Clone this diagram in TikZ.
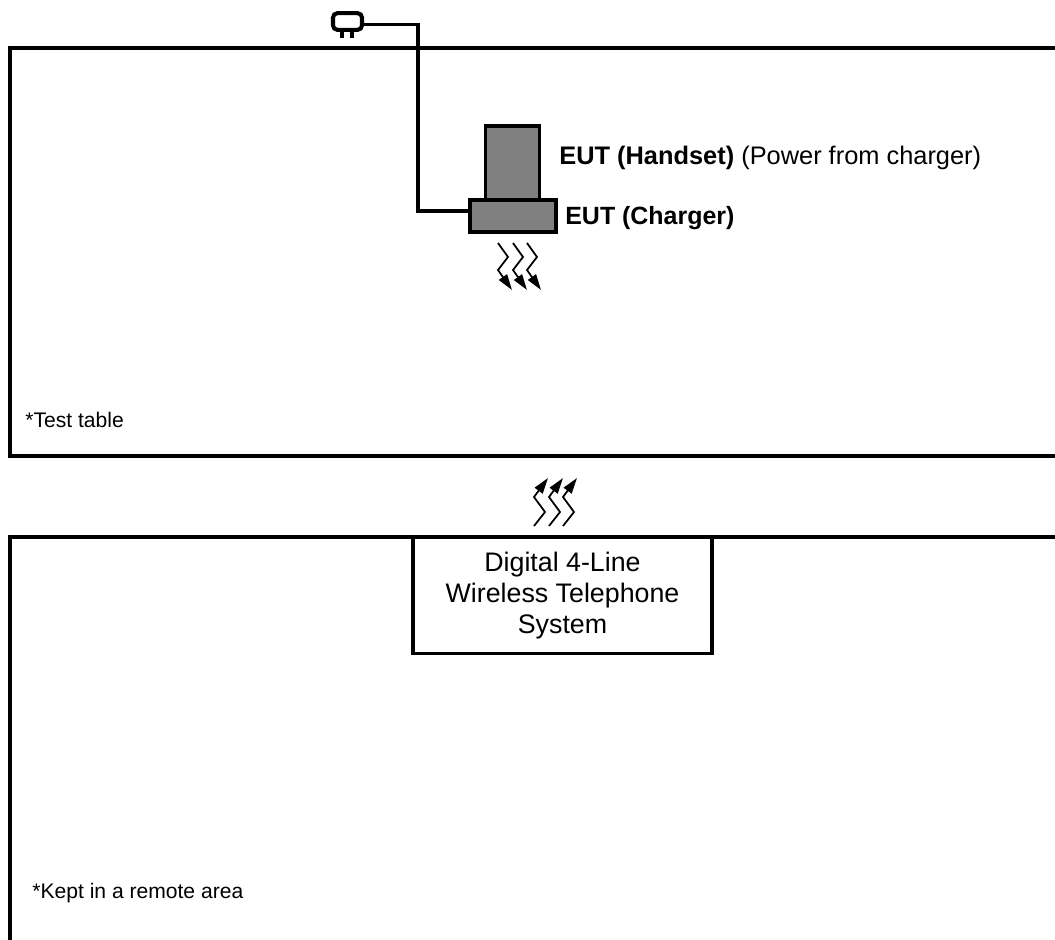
\documentclass[tikz,border=0pt]{standalone}
\usepackage{fontspec}
\setmainfont{Liberation Sans}
\usetikzlibrary{positioning,arrows.meta}

\begin{document}
\begin{tikzpicture}[
  x=0.02cm,y=-0.02cm,
  wall/.style={line width=2pt},
  unit/.style={draw=black,fill=black!50,line width=2pt,inner sep=0pt,outer sep=0pt},
  label/.style={anchor=base west,inner sep=0pt,font=\fontsize{14.45}{17}\selectfont},
  note/.style={anchor=base west,inner sep=0pt,font=\fontsize{12}{14}\selectfont},
  wave/.style={line width=1pt,-{Triangle[length=9pt,width=5.5pt]}}
]
\useasboundingbox (0,0) rectangle (1055,940);
% tables
\draw[wall] (1055,48) -- (10,48) -- (10,456) -- (1055,456);
\draw[wall] (1055,537) -- (10,537) -- (10,940);
\node[note] (tabletxt) at (25,427) {*Test table};
\node[note] (remotetxt) at (32,898) {*Kept in a remote area};
% system in the remote area
\node[draw=black,fill=white,line width=2pt,inner sep=0pt,outer sep=0pt,minimum width=170pt,minimum height=66pt,
  align=center,font=\fontsize{15.25}{17.6}\selectfont] (system) at (562.5,595.5) {Digital 4-Line\\Wireless Telephone\\System};
% handset on charger
\node[unit,minimum width=31pt,minimum height=43pt] (handset) at (512.5,164) {};
\node[unit,minimum width=49pt,minimum height=18pt] (charger) at (513,216) {};
\node[label] (handsettxt) at (559,164) {\textbf{EUT (Handset)} (Power from charger)};
\node[label,font=\fontsize{14.2}{17}\selectfont] (chargertxt) at (565,224) {\textbf{EUT (Charger)}};
% plug and cable
\node[draw=black,line width=2.3pt,rounded corners=2.5pt,inner sep=0pt,outer sep=0pt,minimum width=16.5pt,minimum height=9.5pt] (plug) at (347.5,21.5) {};
\draw[line width=2.2pt] (342,31) -- (342,38) (352,31) -- (352,38);
\draw[line width=2pt] (plug.east |- 0,24.5) -- (418,24.5) -- (418,211) -- (charger.west |- 0,211);
% radio waves
\foreach \dx in {0,15,29} {
  \draw[wave] (498+\dx,243) -- (508+\dx,257) -- (498+\dx,270) -- (512+\dx,290);
  \draw[wave] (534+\dx,526) -- (545+\dx,512) -- (534+\dx,497) -- (548+\dx,478);
}
\end{tikzpicture}
\end{document}
